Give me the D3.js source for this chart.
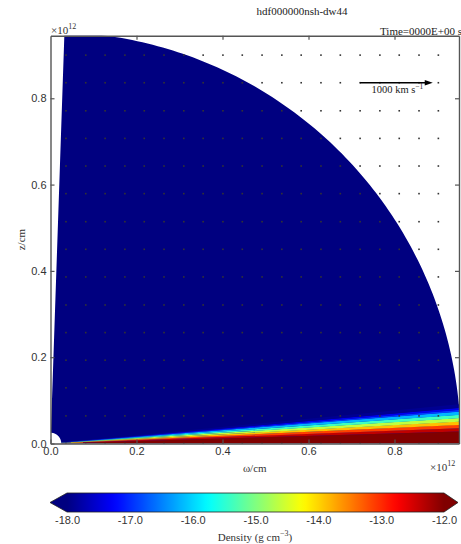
<!DOCTYPE html>
<html>
<head>
<meta charset="utf-8">
<script src="https://cdn.jsdelivr.net/npm/d3@7"></script>
<style>
  body { margin: 0; background: #fff; }
  svg { display: block; font-family: "Liberation Serif", "DejaVu Serif", serif; }
  .frame path.domain { stroke: #555; stroke-width: 1.4; }
  .frame .tick line { stroke: #555; stroke-width: 1.2; }
  .frame .tick text { font-size: 11px; fill: #333; }
  .cbar .tick text { font-size: 11px; fill: #333; }
</style>
</head>
<body>
<svg width="461" height="544"></svg>
<script>
// axis ticks
const xTicks = [0, 0.2, 0.4, 0.6, 0.8];
const yTicks = [0, 0.2, 0.4, 0.6, 0.8];
const cbTicks = [-18, -17, -16, -15, -14, -13, -12];

// simulation domain (units of 1e12 cm)
const rInner = 0.025;
const rOuter = 0.954;
const polarMinDeg = 1.95;   // opening from the z axis

// disk: log10 density vs z/omega (read at the outer edge)
const diskSlope  = [0.000, 0.029, 0.037, 0.045, 0.053, 0.0615, 0.0695, 0.0776, 0.0817, 0.0866, 0.095];
const diskLogRho = [-10.5, -12.0, -12.75, -13.5, -14.25, -15.0, -15.75, -16.6, -17.2, -17.5, -18.3];

// velocity grid points
const vecCols = [0.036, 0.082, 0.127, 0.173, 0.218, 0.264, 0.310, 0.355, 0.401, 0.446,
                 0.492, 0.538, 0.583, 0.629, 0.674, 0.720, 0.766, 0.811, 0.857, 0.902];
const vecRows = [0.000, 0.064, 0.129, 0.193, 0.257, 0.321, 0.386, 0.450, 0.514, 0.579,
                 0.643, 0.707, 0.771, 0.836, 0.900];

// reference arrow (1000 km/s)
const arrowFrom = [0.720, 0.836];
const arrowTo = [0.889, 0.836];

const svg = d3.select('svg');

const x = d3.scaleLinear().domain([0, 0.95]).range([50.5, 459]);
const y = d3.scaleLinear().domain([0, 0.945]).range([443.5, 35.7]);

// jet colormap
const jet = d3.scaleLinear()
    .domain([-18, -17.25, -15.75, -14.25, -12.75, -12])
    .range(['#000080', '#0000ff', '#00ffff', '#ffff00', '#ff0000', '#800000'])
    .clamp(true);

svg.append('clipPath').attr('id', 'plotclip')
    .append('rect')
    .attr('x', x(0)).attr('y', y(0.945))
    .attr('width', x(0.95) - x(0)).attr('height', y(0) - y(0.945));

const plot = svg.append('g').attr('clip-path', 'url(#plotclip)');

const line = d3.line().x(d => x(d[0])).y(d => y(d[1]));

// polar wedge in data space, phi = elevation from the equator
function wedge(r0, r1, phi0, phi1) {
    const n = 120;
    const pts = [];
    for (let i = 0; i <= n; i++) {
        const a = phi0 + (phi1 - phi0) * i / n;
        pts.push([r1 * Math.cos(a), r1 * Math.sin(a)]);
    }
    for (let i = n; i >= 0; i--) {
        const a = phi0 + (phi1 - phi0) * i / n;
        pts.push([r0 * Math.cos(a), r0 * Math.sin(a)]);
    }
    return line(pts) + 'Z';
}

const phiMax = (90 - polarMinDeg) * Math.PI / 180;

// ambient medium
plot.append('path')
    .attr('d', wedge(rInner, rOuter, 0, phiMax))
    .attr('fill', jet(-18));

// disk bands
const bands = d3.range(diskSlope.length - 1).map(i => ({
    a0: Math.atan(diskSlope[i]),
    a1: Math.atan(diskSlope[i + 1]),
    v: (diskLogRho[i] + diskLogRho[i + 1]) / 2
}));

plot.selectAll('.band')
    .data(bands)
    .enter()
    .append('path')
    .classed('band', true)
    .attr('d', d => wedge(rInner, rOuter, d.a0, d.a1 + 0.0005))
    .attr('fill', d => jet(d.v));

// velocity dots
const grid = [];
vecRows.forEach(r => vecCols.forEach(c => grid.push([c, r])));
plot.selectAll('.vec')
    .data(grid)
    .enter()
    .append('rect')
    .classed('vec', true)
    .attr('x', d => x(d[0]) - 0.8)
    .attr('y', d => y(d[1]) - 0.8)
    .attr('width', 1.6)
    .attr('height', 1.6)
    .attr('fill', '#333');

// reference arrow
const ax0 = x(arrowFrom[0]), ay = y(arrowFrom[1]), ax1 = x(arrowTo[0]);
plot.append('line')
    .attr('x1', ax0).attr('y1', ay).attr('x2', ax1 - 5).attr('y2', ay)
    .attr('stroke', '#000').attr('stroke-width', 1.4);
plot.append('path')
    .attr('d', `M${ax1},${ay} L${ax1 - 8},${ay - 2.8} L${ax1 - 8},${ay + 2.8} Z`)
    .attr('fill', '#000');

const arrowLabel = svg.append('text')
    .attr('x', (ax0 + ax1) / 2 + 1)
    .attr('y', ay + 10)
    .attr('text-anchor', 'middle')
    .attr('font-size', 10.5)
    .attr('fill', '#222');
arrowLabel.append('tspan').text('1000 km s');
arrowLabel.append('tspan').attr('dy', -4).attr('font-size', 7.5).text('\u22121');

// frame with inward ticks
const fmt = d => d.toFixed(1);
svg.append('g').classed('frame', true)
    .attr('transform', `translate(0,${y(0)})`)
    .call(d3.axisBottom(x).tickValues(xTicks).tickFormat(fmt).tickSize(-4).tickSizeOuter(0).tickPadding(4));
svg.append('g').classed('frame', true)
    .attr('transform', `translate(0,${y(0.945)})`)
    .call(d3.axisTop(x).tickValues(xTicks.slice(1)).tickFormat('').tickSize(-4).tickSizeOuter(0));
svg.append('g').classed('frame', true)
    .attr('transform', `translate(${x(0)},0)`)
    .call(d3.axisLeft(y).tickValues(yTicks).tickFormat(fmt).tickSize(-4).tickSizeOuter(0).tickPadding(4));
svg.append('g').classed('frame', true)
    .attr('transform', `translate(${x(0.95)},0)`)
    .call(d3.axisRight(y).tickValues(yTicks.slice(1)).tickFormat('').tickSize(-4).tickSizeOuter(0));

// texts
function sciLabel(px, py, anchor) {
    const t = svg.append('text')
        .attr('x', px).attr('y', py)
        .attr('text-anchor', anchor)
        .attr('font-size', 11).attr('fill', '#333');
    t.append('tspan').text('\u00d710');
    t.append('tspan').attr('dy', -5).attr('font-size', 8).text('12');
}
sciLabel(51, 34, 'start');
sciLabel(430, 471, 'start');

svg.append('text')
    .attr('x', 302).attr('y', 15)
    .attr('text-anchor', 'middle')
    .attr('font-size', 11).attr('fill', '#222')
    .text('hdf000000nsh-dw44');

svg.append('text')
    .attr('x', 462).attr('y', 34.5)
    .attr('text-anchor', 'end')
    .attr('font-size', 11).attr('fill', '#222')
    .text('Time=0000E+00 s');

svg.append('text')
    .attr('x', (x(0) + x(0.95)) / 2).attr('y', 472)
    .attr('text-anchor', 'middle')
    .attr('font-size', 11).attr('fill', '#333')
    .text('\u03c9/cm');

svg.append('text')
    .attr('transform', `translate(25,${(y(0) + y(0.945)) / 2}) rotate(-90)`)
    .attr('text-anchor', 'middle')
    .attr('font-size', 11).attr('fill', '#333')
    .text('z/cm');

// colorbar
const cb = d3.scaleLinear().domain([-18, -12]).range([67, 444]);
const cbTop = 493, cbBot = 512, cbMid = (cbTop + cbBot) / 2;

const grad = svg.append('defs').append('linearGradient')
    .attr('id', 'jetgrad').attr('x1', '0%').attr('x2', '100%');
grad.selectAll('stop')
    .data(d3.range(0, 61).map(i => -18 + i * 0.1))
    .enter()
    .append('stop')
    .attr('offset', d => ((d + 18) / 6 * 100) + '%')
    .attr('stop-color', d => jet(d));

svg.append('path')
    .attr('d', `M${cb(-18)},${cbTop} L50,${cbMid} L${cb(-18)},${cbBot} Z`)
    .attr('fill', jet(-18));
svg.append('path')
    .attr('d', `M${cb(-12)},${cbTop} L458,${cbMid} L${cb(-12)},${cbBot} Z`)
    .attr('fill', jet(-12));
svg.append('rect')
    .attr('x', cb(-18)).attr('y', cbTop)
    .attr('width', cb(-12) - cb(-18)).attr('height', cbBot - cbTop)
    .attr('fill', 'url(#jetgrad)');
svg.append('path')
    .attr('d', `M${cb(-18)},${cbTop} L${cb(-12)},${cbTop} L458,${cbMid} L${cb(-12)},${cbBot} L${cb(-18)},${cbBot} L50,${cbMid} Z`)
    .attr('fill', 'none').attr('stroke', '#222').attr('stroke-width', 0.8);

const cbAxis = svg.append('g').classed('cbar', true)
    .attr('transform', `translate(0,${cbBot})`)
    .call(d3.axisBottom(cb).tickValues(cbTicks).tickFormat(fmt).tickSize(0).tickPadding(4));
cbAxis.select('.domain').remove();

const cbLabel = svg.append('text')
    .attr('x', 255).attr('y', 541)
    .attr('text-anchor', 'middle')
    .attr('font-size', 11).attr('fill', '#333');
cbLabel.append('tspan').text('Density (g cm');
cbLabel.append('tspan').attr('dy', -5).attr('font-size', 8).text('\u22123');
cbLabel.append('tspan').attr('dy', 5).text(')');
</script>
</body>
</html>
